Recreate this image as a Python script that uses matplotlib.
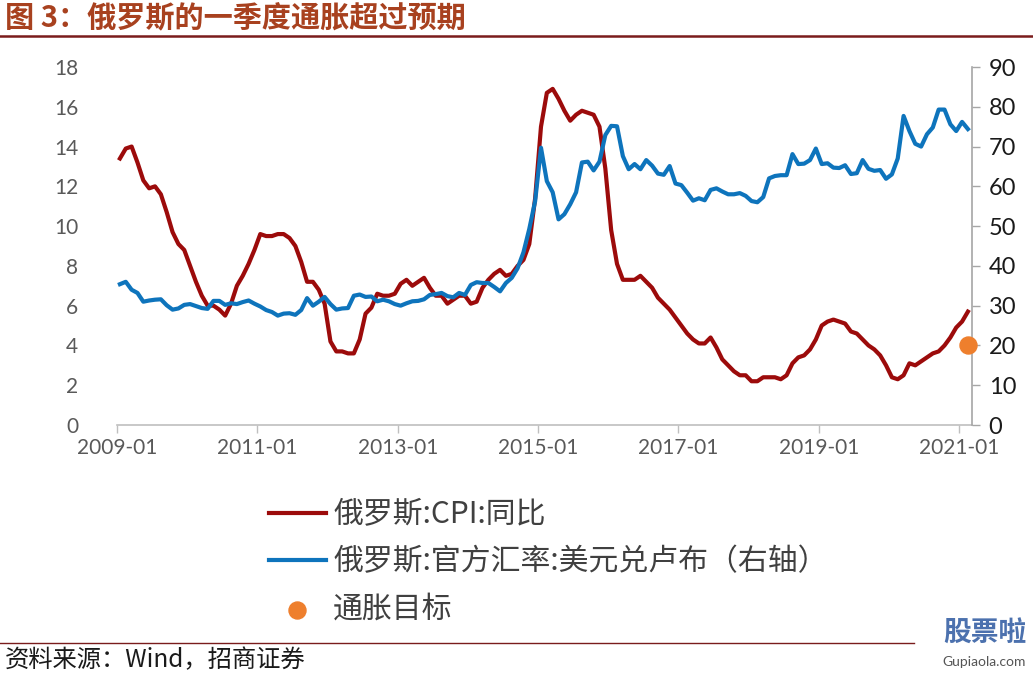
import matplotlib
matplotlib.use('Agg')
import matplotlib.pyplot as plt
import matplotlib.lines as mlines
import numpy as np

plt.rcParams['font.family'] = ['Lato', 'Noto Sans CJK SC', 'DejaVu Sans']

# 月度数据 2009-01 ~ 2021-02
cpi_yoy = [
    13.4, 13.9, 14.0, 13.2, 12.3, 11.9, 12.0, 11.6, 10.7, 9.7, 9.1, 8.8,   # 2009
    8.0, 7.2, 6.5, 6.0, 6.0, 5.8, 5.5, 6.1, 7.0, 7.5, 8.1, 8.8,            # 2010
    9.6, 9.5, 9.5, 9.6, 9.6, 9.4, 9.0, 8.2, 7.2, 7.2, 6.8, 6.1,            # 2011
    4.2, 3.7, 3.7, 3.6, 3.6, 4.3, 5.6, 5.9, 6.6, 6.5, 6.5, 6.6,            # 2012
    7.1, 7.3, 7.0, 7.2, 7.4, 6.9, 6.5, 6.5, 6.1, 6.3, 6.5, 6.5,            # 2013
    6.1, 6.2, 6.9, 7.3, 7.6, 7.8, 7.5, 7.6, 8.0, 8.3, 9.1, 11.4,           # 2014
    15.0, 16.7, 16.9, 16.4, 15.8, 15.3, 15.6, 15.8, 15.7, 15.6, 15.0, 12.9,  # 2015
    9.8, 8.1, 7.3, 7.3, 7.3, 7.5, 7.2, 6.9, 6.4, 6.1, 5.8, 5.4,            # 2016
    5.0, 4.6, 4.3, 4.1, 4.1, 4.4, 3.9, 3.3, 3.0, 2.7, 2.5, 2.5,            # 2017
    2.2, 2.2, 2.4, 2.4, 2.4, 2.3, 2.5, 3.1, 3.4, 3.5, 3.8, 4.3,            # 2018
    5.0, 5.2, 5.3, 5.2, 5.1, 4.7, 4.6, 4.3, 4.0, 3.8, 3.5, 3.0,            # 2019
    2.4, 2.3, 2.5, 3.1, 3.0, 3.2, 3.4, 3.6, 3.7, 4.0, 4.4, 4.9,            # 2020
    5.2, 5.7,                                                              # 2021
]

usd_rub = [
    35.4, 36.0, 34.0, 33.2, 31.0, 31.3, 31.5, 31.6, 30.1, 29.0, 29.3, 30.2,
    30.4, 29.9, 29.4, 29.2, 31.2, 31.2, 30.2, 30.6, 30.4, 30.9, 31.3, 30.5,
    29.8, 28.9, 28.4, 27.5, 28.0, 28.1, 27.7, 28.9, 31.9, 30.0, 31.0, 32.2,
    30.4, 29.0, 29.3, 29.4, 32.5, 32.8, 32.2, 32.3, 31.1, 31.5, 31.1, 30.4,
    30.0, 30.6, 31.1, 31.2, 31.6, 32.7, 32.9, 33.2, 32.4, 32.1, 33.2, 32.7,
    35.2, 35.9, 35.7, 35.7, 34.7, 33.6, 35.7, 37.0, 39.4, 43.4, 49.3, 56.3,
    69.7, 61.3, 58.5, 51.7, 53.0, 55.5, 58.5, 66.0, 66.2, 64.0, 66.2, 72.9,
    75.2, 75.1, 67.6, 64.3, 65.6, 64.3, 66.6, 65.2, 63.2, 62.9, 65.1, 60.7,
    60.3, 58.4, 56.4, 57.0, 56.5, 59.1, 59.5, 58.7, 58.0, 58.0, 58.3, 57.6,
    56.3, 56.0, 57.3, 62.0, 62.6, 62.8, 62.8, 68.1, 65.6, 65.7, 66.6, 69.5,
    65.6, 65.8, 64.7, 64.6, 65.3, 63.1, 63.3, 66.6, 64.4, 63.9, 64.1, 61.9,
    63.0, 67.0, 77.7, 73.9, 70.7, 70.0, 73.1, 74.8, 79.3, 79.3, 75.6, 73.9,
    76.2, 74.4,
]

target_value = 4.0          # 通胀目标（左轴）
tick_labels = ['2009-01', '2011-01', '2013-01', '2015-01', '2017-01', '2019-01', '2021-01']

x = np.arange(len(cpi_yoy)) + 0.5
target_x = x[-1]

fig = plt.figure(figsize=(10.33, 6.74), dpi=100)
ax = fig.add_axes([117 / 1033, 1 - 425 / 674, (972 - 117) / 1033, (425 - 67) / 674])
ax2 = ax.twinx()

red = '#9C0B0B'
blue = '#0E74BC'
orange = '#EE7F2D'

l1, = ax.plot(x, cpi_yoy, color=red, lw=3.0, solid_joinstyle='round')
l2, = ax2.plot(x, usd_rub, color=blue, lw=3.0, solid_joinstyle='round')
dot = ax2.scatter([target_x], [target_value], s=150, color=orange, zorder=5,
                  transform=ax.transData, clip_on=False)

ax.set_xlim(0, 146.2)
ax.set_ylim(0, 18)
ax2.set_ylim(0, 90)
ax.set_yticks(np.arange(0, 19, 2))
ax2.set_yticks(np.arange(0, 91, 10))
ax.set_xticks(np.arange(0, 145, 24))
ax.set_xticklabels(tick_labels)

for a in (ax, ax2):
    for s in ('top', 'left'):
        a.spines[s].set_visible(False)
ax.spines['right'].set_visible(False)
ax2.spines['bottom'].set_visible(False)
ax.spines['bottom'].set_color('#BFBFBF')
ax.spines['bottom'].set_linewidth(1.2)
ax2.spines['right'].set_color('#A6A6A6')
ax2.spines['right'].set_linewidth(1.2)

ax.tick_params(axis='y', length=0, pad=28, labelsize=15, labelcolor='#595959')
ax.tick_params(axis='x', length=6, width=1, color='#BFBFBF', pad=3,
               labelsize=15, labelcolor='#595959')
ax2.tick_params(axis='y', length=6, width=1, color='#A6A6A6', pad=6,
                labelsize=17, labelcolor='#1A1A1A')

# 标题
fig.text(0.005, 1 - 18 / 674, '图 3：俄罗斯的一季度通胀超过预期', fontsize=21,
         fontweight='bold', color='#A8411F', va='center', ha='left',
         family=['Noto Sans CJK SC', 'DejaVu Sans'])
fig.add_artist(mlines.Line2D([0, 1], [1 - 36 / 674] * 2, color='#7A1C1C', lw=1.8))

# 图例
leg = fig.legend([l1, l2, dot],
                 ['俄罗斯:CPI:同比', '俄罗斯:官方汇率:美元兑卢布（右轴）', '通胀目标'],
                 loc='upper left', bbox_to_anchor=(269 / 1033, 1 - 499 / 674),
                 frameon=False, handlelength=1.9, handletextpad=0.25,
                 labelspacing=0.55, borderpad=0, borderaxespad=0,
                 prop={'family': ['Noto Sans CJK SC', 'DejaVu Sans'], 'size': 21.5})
for t in leg.get_texts():
    t.set_color('#404040')

# 资料来源
fig.add_artist(mlines.Line2D([0, 0.885], [1 - 643 / 674] * 2, color='#7A1C1C', lw=1.0))
fig.text(0.005, 1 - 660 / 674, '资料来源：Wind，招商证券', fontsize=17.5, color='#1A1A1A',
         va='center', ha='left', family=['Noto Sans CJK SC', 'DejaVu Sans'])

# 水印
fig.text(0.953, 1 - 634 / 674, '股票啦', fontsize=20, fontweight='bold', color='#1F4E9A',
         alpha=0.8, va='center', ha='center', family=['Noto Sans CJK SC', 'DejaVu Sans'])
fig.text(0.953, 1 - 662 / 674, 'Gupiaola.com', fontsize=10, color='#555555',
         va='center', ha='center')

fig.savefig('out.png', dpi=100)
